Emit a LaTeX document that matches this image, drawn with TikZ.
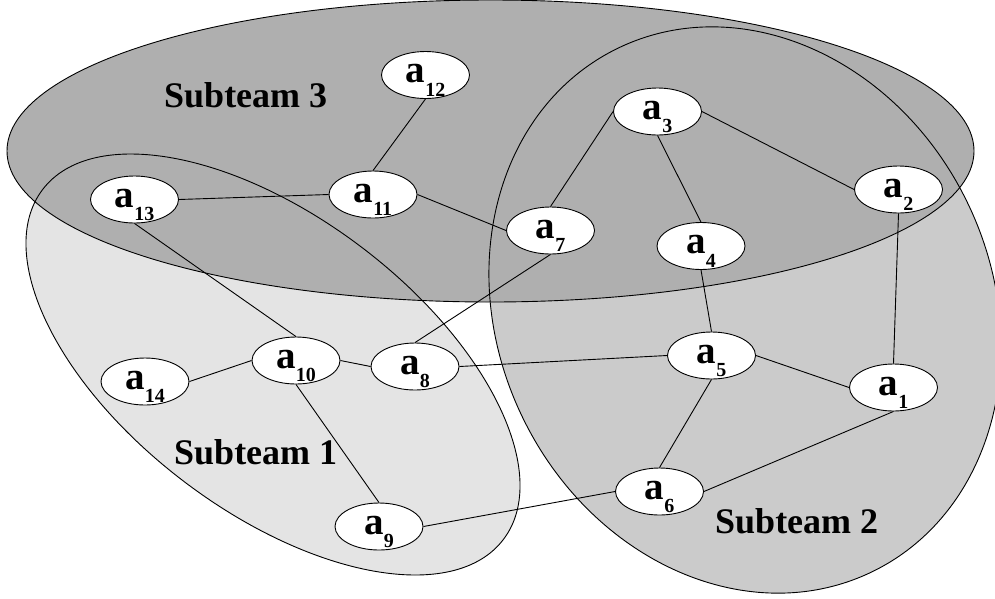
\documentclass[tikz,border=0pt]{standalone}
\usepackage{fontspec}
\setmainfont{Liberation Serif}
\usetikzlibrary{shapes.geometric}
\definecolor{teamone}{gray}{0.894}
\definecolor{teamtwo}{gray}{0.796}
\definecolor{teamthree}{gray}{0.686}
\newcommand{\agent}[1]{a\raisebox{-13.5pt}{\fontsize{20}{20}\selectfont\bfseries #1}}
\tikzset{
  agentnode/.style={ellipse, draw=black, line width=0.9pt, fill=white,
    minimum width=88pt, minimum height=47pt, inner sep=0pt,
    text height=22pt, text depth=6.4pt,
    font=\fontsize{39}{39}\selectfont\bfseries},
  teamlabel/.style={anchor=base west, inner sep=0pt,
    font=\fontsize{36}{36}\selectfont\bfseries},
  link/.style={line width=0.9pt, draw=black},
  teamedge/.style={line width=0.9pt, draw=black}
}
\begin{document}
\begin{tikzpicture}[x=1pt,y=1pt]
\useasboundingbox (0,0) rectangle (995,-598);
\clip (0,0) rectangle (995,-598);
% fills
\fill[teamone, rotate around={-37.2:(273,-364.5)}] (273,-364.5) ellipse [x radius=289.3, y radius=147];
\fill[teamtwo, rotate around={26:(745,-310)}] (745,-310) ellipse [x radius=247, y radius=291];
\fill[teamthree] (490.5,-151) ellipse [x radius=483.5, y radius=151];
% outlines
\draw[teamedge, rotate around={-37.2:(273,-364.5)}] (273,-364.5) ellipse [x radius=289.3, y radius=147];
\draw[teamedge, rotate around={26:(745,-310)}] (745,-310) ellipse [x radius=247, y radius=291];
\draw[teamedge] (490.5,-151) ellipse [x radius=483.5, y radius=151];
% labels
\node[teamlabel] (t3) at (164,-107) {Subteam 3};
\node[teamlabel] (t1) at (174,-464.7) {Subteam 1};
\node[teamlabel] (t2) at (715,-533) {Subteam 2};
% agents
\node[agentnode] (a1) at (893.5,-387.5) {\agent{1}};
\node[agentnode] (a2) at (898.5,-189.5) {\agent{2}};
\node[agentnode] (a3) at (657.5,-111.5) {\agent{3}};
\node[agentnode] (a4) at (701,-246) {\agent{4}};
\node[agentnode] (a5) at (711.5,-355.5) {\agent{5}};
\node[agentnode] (a6) at (659.5,-491.5) {\agent{6}};
\node[agentnode] (a7) at (550.5,-230.5) {\agent{7}};
\node[agentnode] (a8) at (415,-366.5) {\agent{8}};
\node[agentnode] (a9) at (379,-526.5) {\agent{9}};
\node[agentnode] (a10) at (296,-360.5) {\agent{10}};
\node[agentnode] (a11) at (373,-194.5) {\agent{11}};
\node[agentnode] (a12) at (425.5,-75) {\agent{12}};
\node[agentnode] (a13) at (134.5,-199.5) {\agent{13}};
\node[agentnode] (a14) at (145,-381.5) {\agent{14}};
% links
\draw[link] (a12.south) -- (a11.north);
\draw[link] (a13.east) -- (a11.west);
\draw[link] (a11.east) -- (a7.west);
\draw[link] (a13.south) -- (a10.north);
\draw[link] (a7.north) -- (a3.west);
\draw[link] (a3.south) -- (a4.north);
\draw[link] (a3.east) -- (a2.west);
\draw[link] (a2.south) -- (a1.north);
\draw[link] (a4.south) -- (a5.north);
\draw[link] (a7.south) -- (a8.north);
\draw[link] (a14.east) -- (a10.west);
\draw[link] (a10.east) -- (a8.west);
\draw[link] (a10.south) -- (a9.north);
\draw[link] (a8.east) -- (a5.west);
\draw[link] (a5.east) -- (a1.west);
\draw[link] (a5.south) -- (a6.north);
\draw[link] (a6.east) -- (a1.south);
\draw[link] (a9.east) -- (a6.west);
\end{tikzpicture}
\end{document}
